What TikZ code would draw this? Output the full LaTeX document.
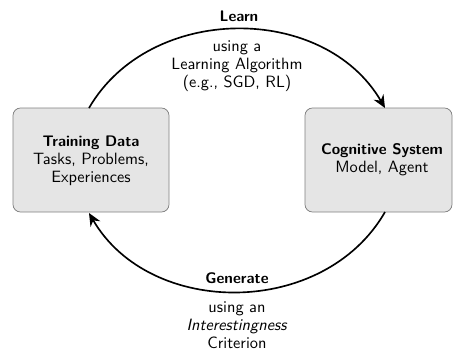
\documentclass[tikz,border=0pt]{standalone}
\usetikzlibrary{arrows.meta}
\renewcommand{\familydefault}{\sfdefault}
\newcommand{\semib}[1]{{\fontsize{10.2}{12}\bfseries #1}}
\begin{document}
\begin{tikzpicture}[x=0.6667pt,y=-0.6667pt,
  box/.style={draw=gray,fill=gray!20,rounded corners=5pt,line width=0.5pt},
  flow/.style={line width=1.1pt,-{Stealth[length=8.5pt,width=7.5pt]}},
  txt/.style={align=center,inner sep=0pt,font=\fontsize{10.9}{12}\selectfont}]
\useasboundingbox (0,0) rectangle (453,353);
\draw[box] (13,108) rectangle (169,212);
\draw[box] (305,108) rectangle (452,212);
\node[txt] (td) at (91,161) {\semib{Training Data}\\Tasks, Problems,\\Experiences};
\node[txt] (cs) at (382,160) {\semib{Cognitive System}\\Model, Agent};
\coordinate (a1) at (89,108);
\coordinate (b1) at (385,108);
\coordinate (a2) at (385,212);
\coordinate (b2) at (89,213);
\draw[flow] (a1) .. controls (150,3) and (324,3) .. (b1);
\draw[flow] (a2) .. controls (324,318) and (150,318) .. (b2);
\node[txt] (learn) at (239,16) {\semib{Learn}};
\node[txt] (la) at (237,66) {using a\\Learning Algorithm\\(e.g., SGD, RL)};
\node[txt] (gen) at (237,278) {\semib{Generate}};
\node[txt] (ga) at (237,325) {using an\\\textit{Interestingness}\\Criterion};
\end{tikzpicture}
\end{document}
